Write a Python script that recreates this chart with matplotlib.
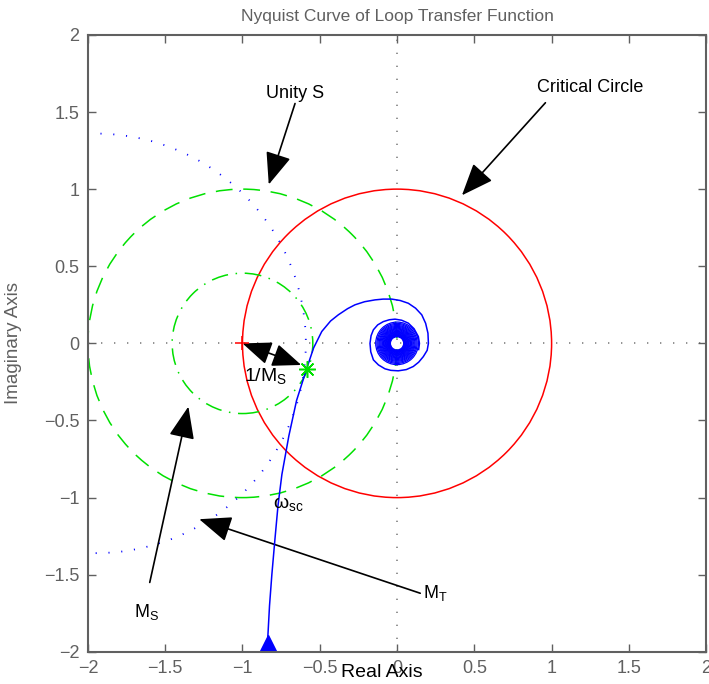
import matplotlib.pyplot as plt
from matplotlib.patches import Circle, FancyArrowPatch

plt.rcParams['font.family'] = ['Liberation Sans', 'DejaVu Sans']
plt.rcParams['mathtext.fontset'] = 'custom'
plt.rcParams['mathtext.rm'] = 'Liberation Sans'
plt.rcParams['mathtext.it'] = 'Liberation Sans:italic'

# Nyquist curve of the loop transfer function (real, imag), from low to high frequency
nyq_re = [-0.838, -0.825, -0.81, -0.79, -0.77, -0.745, -0.70, -0.65, -0.585, -0.54,
          -0.487, -0.43, -0.38, -0.32, -0.272, -0.21, -0.142, -0.09, -0.034, 0.02,
          0.073, 0.12, 0.16, 0.185, 0.20, 0.203, 0.195, 0.17, 0.14, 0.105,
          0.06, 0.008, -0.04, -0.078, -0.12, -0.153, -0.17, -0.175, -0.168, -0.153,
          -0.125, -0.089, -0.05, -0.013, 0.03, 0.073, 0.11, 0.138, 0.145, 0.14]
nyq_im = [-1.94, -1.70, -1.50, -1.27, -1.05, -0.85, -0.60, -0.37, -0.165, -0.03,
          0.077, 0.145, 0.185, 0.225, 0.25, 0.27, 0.282, 0.287, 0.287, 0.278,
          0.26, 0.228, 0.185, 0.13, 0.066, 0.0, -0.045, -0.086, -0.122, -0.15,
          -0.17, -0.178, -0.175, -0.165, -0.14, -0.107, -0.055, 0.0, 0.05, 0.088,
          0.12, 0.141, 0.153, 0.157, 0.15, 0.131, 0.095, 0.044, 0.0, -0.04]
# tight turns of the spiral closing in on the origin
inner_r = [0.138, 0.130, 0.123, 0.116, 0.110, 0.104, 0.098, 0.093, 0.088, 0.083,
           0.078, 0.074, 0.070, 0.066, 0.062, 0.058, 0.055, 0.052, 0.049, 0.046, 0.043]

# circles: (center, radius)
crit_circle = ((0.0, 0.0), 1.0)
unity_s = ((-1.0, 0.0), 1.0)
ms_circle = ((-1.0, 0.0), 0.455)
mt_circle = ((-1.95, 0.0), 1.36)

omega_sc = (-0.585, -0.165)
minus_one = (-1.0, 0.0)

# annotations: text, text position, arrow tail, arrow tip
notes = [
    ('Unity S', (-0.66, 1.62), (-0.66, 1.555), (-0.83, 1.03)),
    ('Critical Circle', (1.25, 1.66), (0.96, 1.56), (0.42, 0.96)),
    ('$\\mathrm{M_S}$', (-1.62, -1.74), (-1.60, -1.55), (-1.35, -0.41)),
    ('$\\mathrm{M_T}$', (0.25, -1.62), (0.15, -1.62), (-1.28, -1.14)),
]

fig = plt.figure(figsize=(7.09, 6.84), dpi=100)
ax = fig.add_axes([0.124, 0.047, 0.872, 0.902])
grey = '#606060'

ax.axhline(0, color='#808080', lw=1.2, ls=(0, (0.8, 7)), zorder=1)
ax.axvline(0, color='#808080', lw=1.2, ls=(0, (0.8, 7)), zorder=1)

ax.add_patch(Circle(*crit_circle, fill=False, color='#ff0000', lw=1.1))
ax.add_patch(Circle(*unity_s, fill=False, color='#00e000', lw=1.1, ls=(0, (11, 7))))
ax.add_patch(Circle(*ms_circle, fill=False, color='#00e000', lw=1.1, ls=(0, (11, 5, 1, 5))))
ax.add_patch(Circle(*mt_circle, fill=False, color='#0000ff', lw=1.3, ls=(0, (0.6, 6.5))))

ax.plot(nyq_re, nyq_im, color='#0000ff', lw=1.1)
for r in inner_r:
    ax.add_patch(Circle((0, 0), r, fill=False, color='#0000ff', lw=0.9))
ax.plot(nyq_re[0], nyq_im[0], marker='^', color='#0000ff', ms=11)
ax.plot(*minus_one, marker='+', color='#ff0000', ms=10, mew=1.1)
ax.plot(*omega_sc, marker=(8, 2, 0), color='#00e000', ms=12, mew=1.1)

# 1/Ms double arrow from -1 to the closest point of the curve
ax.add_patch(FancyArrowPatch(minus_one, (-0.62, -0.14), arrowstyle='<|-|>,head_length=1.0,head_width=0.4',
                             mutation_scale=18, color='k', lw=1.2, shrinkA=0, shrinkB=0))
ax.text(-0.99, -0.21, '$\\mathrm{1/M_S}$', fontsize=14, va='center', ha='left')
ax.text(-0.80, -1.04, '$\\mathrm{\u03c9_{sc}}$', fontsize=14, va='center', ha='left')

for label, pos, tail, tip in notes:
    ax.add_patch(FancyArrowPatch(tail, tip, arrowstyle='-|>,head_length=1.0,head_width=0.4',
                                 mutation_scale=20, color='k', lw=1.2, shrinkA=0, shrinkB=0))
    ax.text(*pos, label, fontsize=13, ha='center', va='center')

ax.set_xlim(-2, 2)
ax.set_ylim(-2, 2)
ticks = [-2, -1.5, -1, -0.5, 0, 0.5, 1, 1.5, 2]
tick_labels = ['\u22122', '\u22121.5', '\u22121', '\u22120.5', '0', '0.5', '1', '1.5', '2']
ax.set_xticks(ticks)
ax.set_yticks(ticks)
ax.set_xticklabels(tick_labels)
ax.set_yticklabels(tick_labels)
ax.tick_params(direction='in', length=6, width=1, colors=grey, labelsize=13,
               top=True, right=True, pad=6)
for s in ax.spines.values():
    s.set_color(grey)
    s.set_linewidth(1.5)

ax.set_title('Nyquist Curve of Loop Transfer Function', fontsize=12.5, color=grey, pad=10)
ax.set_xlabel('Real Axis', fontsize=14, color='k')
ax.xaxis.set_label_coords(0.476, -0.033)
ax.xaxis.label.set_va('center')
ax.set_ylabel('Imaginary Axis', fontsize=13.5, color=grey)
ax.yaxis.set_label_coords(-0.107, 0.5)

fig.savefig('out.png', dpi=100)
